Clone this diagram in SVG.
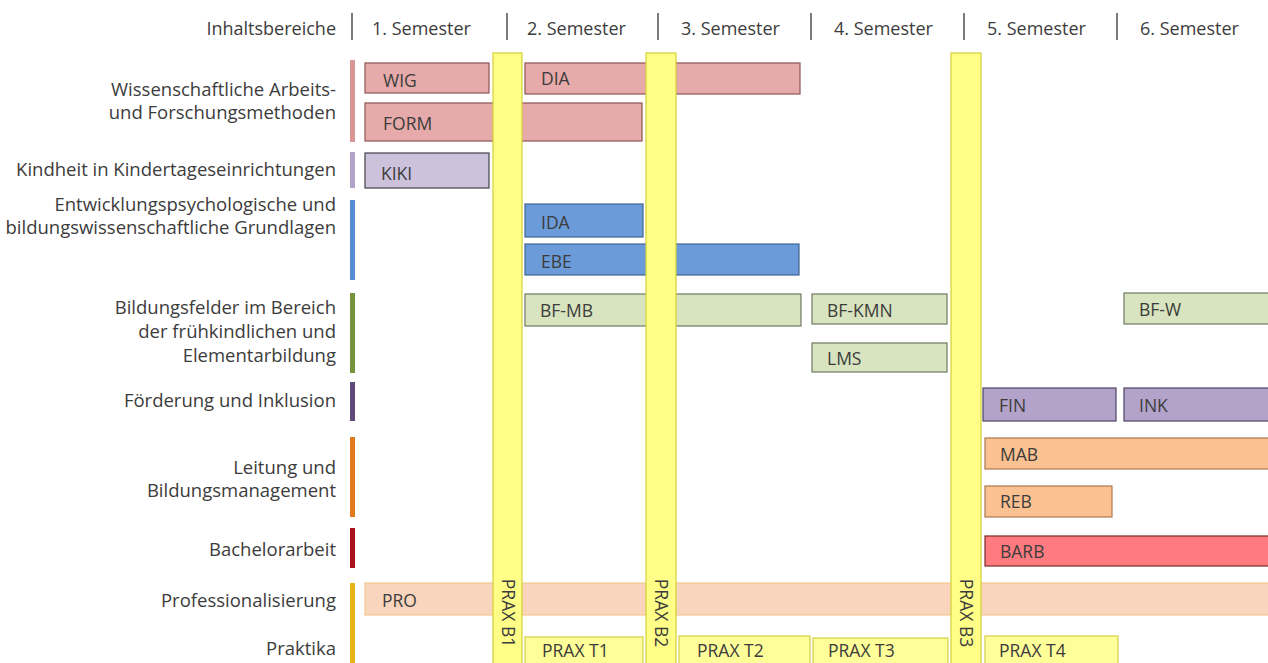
<svg xmlns="http://www.w3.org/2000/svg" width="1268" height="663" viewBox="0 0 1268 663">
<style>
text{font-family:"Open Sans","Noto Sans","Liberation Sans",sans-serif;fill:#3c3c3c}
.hd{font-size:18px}
.lb{font-size:18.5px;text-anchor:end}
.bx{font-size:17.5px}
.sep{stroke:#222;stroke-width:1.2}
.pink{fill:#e6aaaa;stroke:#8e5454;stroke-width:1.2}
.kiki{fill:#ccc2dc;stroke:#40404a;stroke-width:1.2}
.blue{fill:#6b9bd9;stroke:#3f6492;stroke-width:1.2}
.green{fill:#d8e4bf;stroke:#6e7a62;stroke-width:1.2}
.purp{fill:#b3a3cb;stroke:#4a4566;stroke-width:1.2}
.orng{fill:#fbc191;stroke:#ad7a50;stroke-width:1.2}
.barb{fill:#ff7b80;stroke:#7a2a2a;stroke-width:1.2}
.pro{fill:#f9d5bd;stroke:#f0c890;stroke-width:1.2}
.bar{fill:#ffff88;stroke:#d6cf3a;stroke-width:1.2}
.prt{fill:#ffff99;stroke:#d6cf4a;stroke-width:1.2}
</style>
<rect width="1268" height="663" fill="#ffffff"/>
<g id="header">
<text class="hd" x="336" y="35" text-anchor="end">Inhaltsbereiche</text>
<line class="sep" x1="352" y1="13" x2="352" y2="40"/>
<text class="hd" x="372" y="35">1. Semester</text>
<line class="sep" x1="507" y1="13" x2="507" y2="40"/>
<text class="hd" x="527" y="35">2. Semester</text>
<line class="sep" x1="658" y1="13" x2="658" y2="40"/>
<text class="hd" x="681" y="35">3. Semester</text>
<line class="sep" x1="811" y1="13" x2="811" y2="40"/>
<text class="hd" x="834" y="35">4. Semester</text>
<line class="sep" x1="964" y1="13" x2="964" y2="40"/>
<text class="hd" x="987" y="35">5. Semester</text>
<line class="sep" x1="1117" y1="13" x2="1117" y2="40"/>
<text class="hd" x="1140" y="35">6. Semester</text>
</g>
<g id="categories">
<g id="cat-wiss"><rect x="350" y="60" width="5" height="82" fill="#d99694"/>
<text class="lb" x="336" y="96">Wissenschaftliche Arbeits-</text>
<text class="lb" x="336" y="119">und Forschungsmethoden</text></g>
<g id="cat-kiki"><rect x="350" y="152" width="5" height="36" fill="#b3a2c7"/>
<text class="lb" x="336" y="176">Kindheit in Kindertageseinrichtungen</text></g>
<g id="cat-entw"><rect x="350" y="200" width="5" height="80" fill="#558ed5"/>
<text class="lb" x="336" y="211">Entwicklungspsychologische und</text>
<text class="lb" x="336" y="234">bildungswissenschaftliche Grundlagen</text></g>
<g id="cat-bild"><rect x="350" y="293" width="5" height="80" fill="#77933c"/>
<text class="lb" x="336" y="314">Bildungsfelder im Bereich</text>
<text class="lb" x="336" y="338">der frühkindlichen und</text>
<text class="lb" x="336" y="362">Elementarbildung</text></g>
<g id="cat-foerd"><rect x="350" y="382" width="5" height="39" fill="#604a7b"/>
<text class="lb" x="336" y="407">Förderung und Inklusion</text></g>
<g id="cat-leit"><rect x="350" y="437" width="5" height="80" fill="#e07a1c"/>
<text class="lb" x="336" y="474">Leitung und</text>
<text class="lb" x="336" y="497">Bildungsmanagement</text></g>
<g id="cat-bach"><rect x="350" y="528" width="5" height="40" fill="#a8101c"/>
<text class="lb" x="336" y="556">Bachelorarbeit</text></g>
<g id="cat-prof"><rect x="350" y="583" width="5" height="80" fill="#e6b417"/>
<text class="lb" x="336" y="607">Professionalisierung</text>
<text class="lb" x="336" y="655">Praktika</text></g>
</g>
<g id="connectors"/>
<g id="modules">
<g id="WIG"><rect class="pink" x="365" y="63" width="124" height="30"/><text class="bx" x="383" y="87">WIG</text></g>
<g id="DIA"><rect class="pink" x="525" y="63" width="275" height="31"/><text class="bx" x="541" y="85">DIA</text></g>
<g id="FORM"><rect class="pink" x="365" y="103" width="277" height="38"/><text class="bx" x="383" y="130">FORM</text></g>
<g id="KIKI"><rect class="kiki" x="365" y="153" width="124" height="35"/><text class="bx" x="381" y="180">KIKI</text></g>
<g id="IDA"><rect class="blue" x="525" y="204" width="118" height="33"/><text class="bx" x="541" y="229">IDA</text></g>
<g id="EBE"><rect class="blue" x="525" y="244" width="274" height="31"/><text class="bx" x="541" y="268">EBE</text></g>
<g id="BF-MB"><rect class="green" x="525" y="294" width="276" height="32"/><text class="bx" x="540" y="317">BF-MB</text></g>
<g id="BF-KMN"><rect class="green" x="812" y="294" width="135" height="30"/><text class="bx" x="827" y="317">BF-KMN</text></g>
<g id="LMS"><rect class="green" x="812" y="343" width="135" height="29"/><text class="bx" x="827" y="365">LMS</text></g>
<g id="BF-W"><rect class="green" x="1124" y="293" width="150" height="31"/><text class="bx" x="1139" y="316">BF-W</text></g>
<g id="FIN"><rect class="purp" x="983" y="388" width="133" height="33"/><text class="bx" x="999" y="412">FIN</text></g>
<g id="INK"><rect class="purp" x="1124" y="388" width="150" height="33"/><text class="bx" x="1139" y="412">INK</text></g>
<g id="MAB"><rect class="orng" x="985" y="438" width="290" height="31"/><text class="bx" x="1000" y="461">MAB</text></g>
<g id="REB"><rect class="orng" x="985" y="486" width="127" height="31"/><text class="bx" x="1000" y="508">REB</text></g>
<g id="BARB"><rect class="barb" x="985" y="536" width="290" height="30"/><text class="bx" x="1000" y="558">BARB</text></g>
<g id="PRO"><rect class="pro" x="365" y="583" width="910" height="32"/><text class="bx" x="382" y="607">PRO</text></g>
</g>
<g id="praxis">
<g id="PRAX-B1"><rect class="bar" x="493" y="53" width="29" height="620"/><text class="bx" transform="translate(501.5,613) rotate(90)" text-anchor="middle">PRAX B1</text></g>
<g id="PRAX-B2"><rect class="bar" x="646" y="53" width="30" height="620"/><text class="bx" transform="translate(655,613) rotate(90)" text-anchor="middle">PRAX B2</text></g>
<g id="PRAX-B3"><rect class="bar" x="951" y="53" width="30" height="620"/><text class="bx" transform="translate(960,613) rotate(90)" text-anchor="middle">PRAX B3</text></g>
<g id="PRAX-T1"><rect class="prt" x="525" y="637" width="118" height="40"/><text class="bx" x="542" y="657">PRAX T1</text></g>
<g id="PRAX-T2"><rect class="prt" x="679" y="636" width="131" height="40"/><text class="bx" x="697" y="657">PRAX T2</text></g>
<g id="PRAX-T3"><rect class="prt" x="813" y="638" width="135" height="40"/><text class="bx" x="828" y="657">PRAX T3</text></g>
<g id="PRAX-T4"><rect class="prt" x="985" y="636" width="133" height="40"/><text class="bx" x="999" y="657">PRAX T4</text></g>
</g>
</svg>
